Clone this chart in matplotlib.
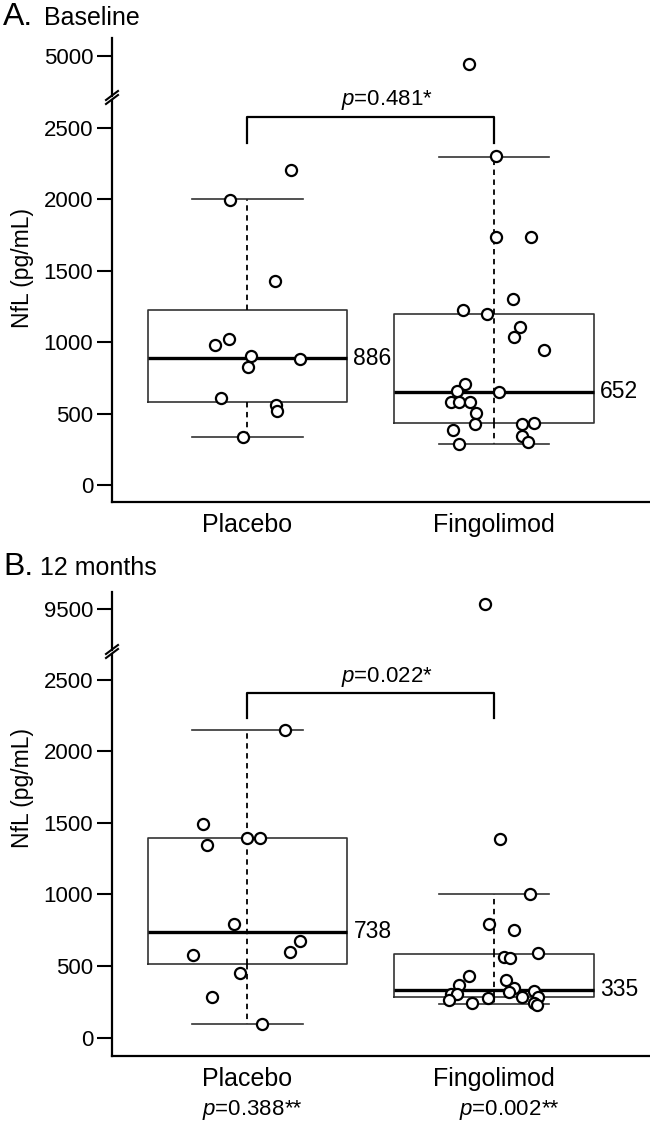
import numpy as np
import matplotlib.pyplot as plt
from matplotlib.lines import Line2D

plt.rcParams['font.family'] = ['Liberation Sans', 'DejaVu Sans']
plt.rcParams['mathtext.fontset'] = 'custom'
plt.rcParams['mathtext.it'] = 'Liberation Sans:italic'
plt.rcParams['mathtext.rm'] = 'Liberation Sans'

groups = ['Placebo', 'Fingolimod']

# box stats: whisker low, q1, median, q3, whisker high
base_placebo_box = [338, 582, 886, 1224, 2000]
base_fingo_box = [287, 434, 652, 1200, 2300]
m12_placebo_box = [96, 515, 738, 1392, 2149]
m12_fingo_box = [235, 282, 335, 584, 1001]

# individual patients (pg/mL) and their horizontal jitter
base_placebo = [2203, 1998, 1427, 1021, 979, 902, 879, 825, 608, 557, 520, 338]
base_placebo_jit = [0.176, -0.070, 0.113, -0.074, -0.132, 0.015, 0.212, 0.001,
                    -0.109, 0.116, 0.120, -0.017]
base_fingo = [4940, 2304, 1737, 1737, 1302, 1223, 1195, 1106, 1034, 943, 707, 660,
              653, 579, 579, 579, 502, 425, 425, 432, 385, 343, 301, 289]
base_fingo_jit = [-0.101, 0.009, 0.008, 0.151, 0.077, -0.127, -0.030, 0.107, 0.080,
                  0.203, -0.118, -0.150, 0.019, -0.176, -0.142, -0.097, -0.074,
                  -0.077, 0.112, 0.163, -0.168, 0.114, 0.138, -0.143]
m12_placebo = [2149, 1490, 1348, 1392, 1392, 794, 675, 601, 575, 454, 285, 96]
m12_placebo_jit = [0.153, -0.179, -0.166, -0.001, 0.051, -0.056, 0.212, 0.172,
                   -0.221, -0.029, -0.143, 0.060]
m12_fingo = [9540, 1385, 1001, 792, 754, 591, 566, 559, 433, 405, 368, 349, 317,
             328, 303, 307, 282, 279, 282, 263, 242, 244, 228]
m12_fingo_jit = [-0.035, 0.026, 0.146, -0.020, 0.080, 0.178, 0.041, 0.065, -0.103,
                 0.047, -0.141, 0.080, 0.061, 0.162, -0.173, -0.149, 0.114, -0.024,
                 0.178, -0.181, -0.089, 0.162, 0.173]

p_between = ['0.481', '0.022']
p_within = ['0.388', '0.002']

W, H = 650, 1125


def fx(px):
    return px / W


def fy(px):
    return 1 - px / H


def panel(fig, top, brk, bot, up_lim, up_tick, low_lim, boxes, pts, jits,
          dash_through, letter, title, title_y, ylab_y, p_txt, p_y, br_top, br_bot):
    left = 112
    axu = fig.add_axes([fx(left), fy(brk - 2), 1 - fx(left), (brk - 2 - top) / H])
    axl = fig.add_axes([fx(left), fy(bot), 1 - fx(left), (bot - brk - 2) / H])

    stats = []
    for b in boxes:
        stats.append(dict(whislo=b[0], q1=b[1], med=b[2], q3=b[3], whishi=b[4], fliers=[]))
    axl.bxp(stats, positions=[1, 2], widths=0.811, capwidths=0.45, showfliers=False,
            manage_ticks=False,
            boxprops=dict(color='#333333', lw=1.2),
            medianprops=dict(color='black', lw=2.4),
            whiskerprops=dict(color='black', lw=1.3, ls=(0, (3, 2.5))),
            capprops=dict(color='#333333', lw=1.2))
    for i, b in enumerate(boxes):
        if dash_through[i]:
            axl.vlines(i + 1, b[1], b[3], color='black', lw=1.3, ls=(0, (3, 2.5)))
        axl.text(i + 1.43, b[2], str(b[2]), fontsize=16.5, va='center', ha='left')

    for ax in (axu, axl):
        ax.set_xlim(0.4503, 2.633)
        ax.spines[['top', 'right']].set_visible(False)
        for s in ax.spines.values():
            s.set_linewidth(1.6)
        ax.tick_params(axis='y', length=10.5, width=1.5, labelsize=16, pad=3)
        ax.patch.set_alpha(0)
    axu.spines['bottom'].set_visible(False)
    axu.set_xticks([])
    axu.set_ylim(*up_lim)
    axu.set_yticks([up_tick])
    axl.set_ylim(*low_lim)
    axl.set_yticks(range(0, 2501, 500))
    axl.set_xticks([1, 2], groups)
    axl.tick_params(axis='x', length=0, labelsize=18, pad=8)

    for i in range(2):
        v = np.array(pts[i])
        x = i + 1 + np.array(jits[i])
        hi = v > 3000
        kw = dict(ls='none', marker='o', mfc='white', mec='black', ms=8, mew=1.6,
                  zorder=5, clip_on=False)
        axl.plot(x[~hi], v[~hi], **kw)
        axu.plot(x[hi], v[hi], **kw)

    # significance bracket
    axl.plot([1, 1, 2, 2], [br_bot, br_top, br_top, br_bot], color='black', lw=1.6,
             clip_on=False)
    axl.text(1.566, p_y, r'$p$=' + p_txt + '*', fontsize=16, ha='center',
             va='center', clip_on=False)

    # axis break marks
    for yy in (brk - 2.5, brk + 1.5):
        fig.add_artist(Line2D([fx(left - 6), fx(left + 6)], [fy(yy + 4.5), fy(yy - 4.5)],
                              color='black', lw=1.5))
    fig.text(fx(3), fy(title_y), letter, fontsize=23, va='baseline')
    fig.text(fx(44) if letter == 'A.' else fx(40), fy(title_y), title, fontsize=18,
             va='baseline')
    fig.text(fx(22), fy(ylab_y), 'NfL (pg/mL)', rotation=90, fontsize=16.5,
             ha='center', va='center')
    return axl


fig = plt.figure(figsize=(6.5, 11.25), dpi=100)

panel(fig, 38, 98, 502, (4716, 5123), 5000, (-119, 2696),
      [base_placebo_box, base_fingo_box], [base_placebo, base_fingo],
      [base_placebo_jit, base_fingo_jit], [False, True],
      'A.', 'Baseline', 25, 268, p_between[0], 2696, 2579, 2393)

axb = panel(fig, 592, 652, 1056, (9216, 9621), 9500, (-128, 2679),
            [m12_placebo_box, m12_fingo_box], [m12_placebo, m12_fingo],
            [m12_placebo_jit, m12_fingo_jit], [True, True],
            'B.', '12 months', 575, 788, p_between[1], 2521, 2409, 2233)

# within-group p-values under the x labels
for i, p in enumerate(p_within):
    t = axb.text(i + 0.985 + 0.04 * i, -505, r'$p$=' + p, fontsize=16, ha='center',
                 va='center', clip_on=False)
    axb.annotate('**', xy=(1, 1), xycoords=t, ha='left', va='top', fontsize=16)

fig.savefig('out.png', dpi=100)
